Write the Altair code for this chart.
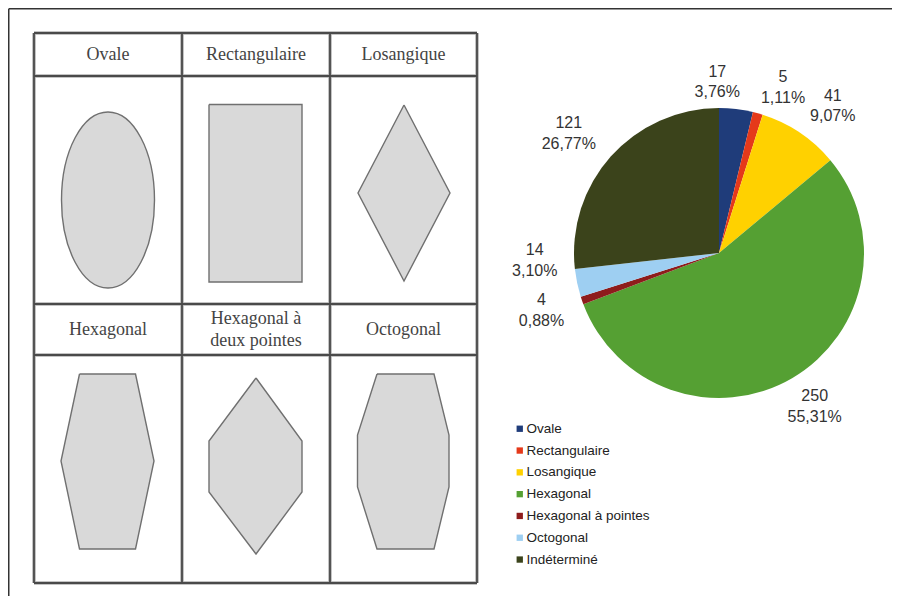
import altair as alt
import pandas as pd

# ---------------- pie data ----------------
categories = ["Ovale", "Rectangulaire", "Losangique", "Hexagonal",
              "Hexagonal à pointes", "Octogonal", "Indéterminé"]
counts = [17, 5, 41, 250, 4, 14, 121]
colors = ["#1F3C7A", "#E5391A", "#FFD100", "#55A033", "#8E1C1C", "#9ECFF2", "#3B431B"]

# ---------------- table data (reference units) ----------------
headers = ["Ovale", "Rectangulaire", "Losangique",
           "Hexagonal", "Hexagonal à\ndeux pointes", "Octogonal"]
col_edges = [34, 182, 330, 477]
row_edges = [33, 76, 304, 355, 583]
header_rows = [(33, 76), (304, 355)]

rect_pts = [(209, 104.5), (302, 104.5), (302, 282), (209, 282)]
losange_pts = [(404, 105), (450, 193), (404, 281), (358, 193)]
hexa_pts = [(79.5, 374), (135.5, 374), (154, 461), (135.5, 549), (79.5, 549), (61, 461)]
hexa2_pts = [(256, 378), (302, 441), (302, 492), (256, 554), (209, 492), (209, 441)]
octo_pts = [(377, 374), (434, 374), (449, 435), (449, 487), (434, 549), (377, 549),
            (357.5, 487), (357.5, 435)]
oval_center = (108, 200)
oval_rx, oval_ry = 46.5, 88

# ---------------- frame / scales ----------------
W, H = 884, 588
X0, Y0 = 8, 8
xs = alt.Scale(domain=[X0, X0 + W], nice=False, zero=False)
ys = alt.Scale(domain=[Y0, Y0 + H], nice=False, zero=False, reverse=True)


def X(f):
    return alt.X(f, type="quantitative", scale=xs, axis=None)


def Y(f):
    return alt.Y(f, type="quantitative", scale=ys, axis=None)


# frame lines
frame_df = pd.DataFrame({"x": [8.75, 8.75], "x2": [X0 + W, 8.75],
                         "y": [8.75, 8.75], "y2": [8.75, Y0 + H]})
frame = alt.Chart(frame_df).mark_rule(color="#333333", strokeWidth=1.5).encode(
    x=X("x"), x2="x2", y=Y("y"), y2="y2")

# table grid
grid_rows = []
for c in col_edges:
    grid_rows.append({"x": c, "x2": c, "y": row_edges[0], "y2": row_edges[-1]})
for r in row_edges:
    grid_rows.append({"x": col_edges[0], "x2": col_edges[-1], "y": r, "y2": r})
grid_df = pd.DataFrame(grid_rows)
grid_shadow = alt.Chart(grid_df).mark_rule(color="#b0b0b0", strokeWidth=3.5).encode(
    x=X("x"), x2="x2", y=Y("y"), y2="y2")
grid = alt.Chart(grid_df).mark_rule(color="#4a4a4a", strokeWidth=1.8).encode(
    x=X("x"), x2="x2", y=Y("y"), y2="y2")

# header texts
head_rows = []
for i, h in enumerate(headers):
    col = i % 3
    r0, r1 = header_rows[i // 3]
    head_rows.append({"x": (col_edges[col] + col_edges[col + 1]) / 2,
                      "y": (r0 + r1) / 2, "t": h, "n": h.count("\n")})
head_df = pd.DataFrame(head_rows)
HEAD_LH = 22
head_one = alt.Chart(head_df).transform_filter("datum.n == 0").mark_text(
    font="Liberation Serif", fontSize=18, color="#444444",
    align="center", baseline="middle").encode(
    x=X("x"), y=Y("y"), text="t:N")
head_two = alt.Chart(head_df).transform_filter("datum.n == 1").mark_text(
    font="Liberation Serif", fontSize=18, color="#444444", lineBreak="\n",
    lineHeight=HEAD_LH, dy=-HEAD_LH / 2, align="center", baseline="middle").encode(
    x=X("x"), y=Y("y"), text="t:N")

# polygons
poly_rows = []
for name, pts in [("rect", rect_pts), ("losange", losange_pts), ("hexa", hexa_pts),
                  ("hexa2", hexa2_pts), ("octo", octo_pts)]:
    for j, (px, py) in enumerate(pts + [pts[0]]):
        poly_rows.append({"shape": name, "i": j, "x": px, "y": py})
poly_df = pd.DataFrame(poly_rows)
polys = alt.Chart(poly_df).mark_line(
    fill="#D9D9D9", stroke="#707070", strokeWidth=1.4, strokeJoin="miter").encode(
    x=X("x"), y=Y("y"), detail="shape:N", order="i:Q")

# oval as custom symbol (unit ellipse)
k = 0.5523
a = oval_rx / oval_ry
ell_path = (f"M0,-1 C{a*k:.4f},-1 {a:.4f},-{k} {a:.4f},0 "
            f"C{a:.4f},{k} {a*k:.4f},1 0,1 "
            f"C-{a*k:.4f},1 -{a:.4f},{k} -{a:.4f},0 "
            f"C-{a:.4f},-{k} -{a*k:.4f},-1 0,-1 Z")
oval_df = pd.DataFrame({"x": [oval_center[0]], "y": [oval_center[1]]})
oval = alt.Chart(oval_df).mark_point(
    shape=ell_path, size=(2 * oval_ry) ** 2, filled=True, fill="#D9D9D9",
    stroke="#707070", strokeWidth=1.4, opacity=1).encode(x=X("x"), y=Y("y"))

# ---------------- pie ----------------
total = sum(counts)
labels = [f"{c}\n{100 * c / total:.2f}%".replace(".", ",") for c in counts]
pie_df = pd.DataFrame({"cat": categories, "count": counts,
                       "idx": list(range(len(categories))), "label": labels})
CX, CY, R = 719, 253, 145
cx = alt.XDatum(CX, type="quantitative", scale=xs, axis=None)
cy = alt.YDatum(CY, type="quantitative", scale=ys, axis=None)

pie = alt.Chart(pie_df).mark_arc(radius=R, strokeWidth=0).encode(
    theta=alt.Theta("count:Q", stack=True),
    order=alt.Order("idx:Q"),
    color=alt.Color("cat:N", sort=categories,
                    scale=alt.Scale(domain=categories, range=colors),
                    legend=alt.Legend(title=None, orient="none", legendX=505, legendY=414,
                                      symbolType="square", symbolSize=40,
                                      symbolStrokeWidth=0, labelFont="Liberation Sans",
                                      labelFontSize=13.5, labelColor="#222222",
                                      rowPadding=6.8, padding=0, labelOffset=0)),
    x=cx, y=cy)

LAB_LH = 20.5
nudges = [(-22, 0), (18, 0), (18, -4), (9, 5), (-15, 1), (-16, -28), (-22, -5)]
label_layers = []
for i, (dx, dy) in enumerate(nudges):
    label_layers.append(
        alt.Chart(pie_df).mark_text(
            radius=172, dx=dx, dy=dy - LAB_LH / 2, font="Liberation Sans", fontSize=16,
            color="#333333", lineBreak="\n", lineHeight=LAB_LH,
            align="center", baseline="middle").encode(
            theta=alt.Theta("count:Q", stack=True),
            order=alt.Order("idx:Q"),
            text=alt.condition(f"datum.idx == {i}", "label:N", alt.value("")),
            x=cx, y=cy))

chart = alt.layer(frame, grid_shadow, grid, polys, oval, head_one, head_two, pie,
                  *label_layers).properties(
    width=W, height=H, autosize=alt.AutoSizeParams(type="none"), padding=0,
    background="white"
).configure_view(stroke=None)

chart.save("out.html", embed_options={"renderer": "svg", "actions": False})
